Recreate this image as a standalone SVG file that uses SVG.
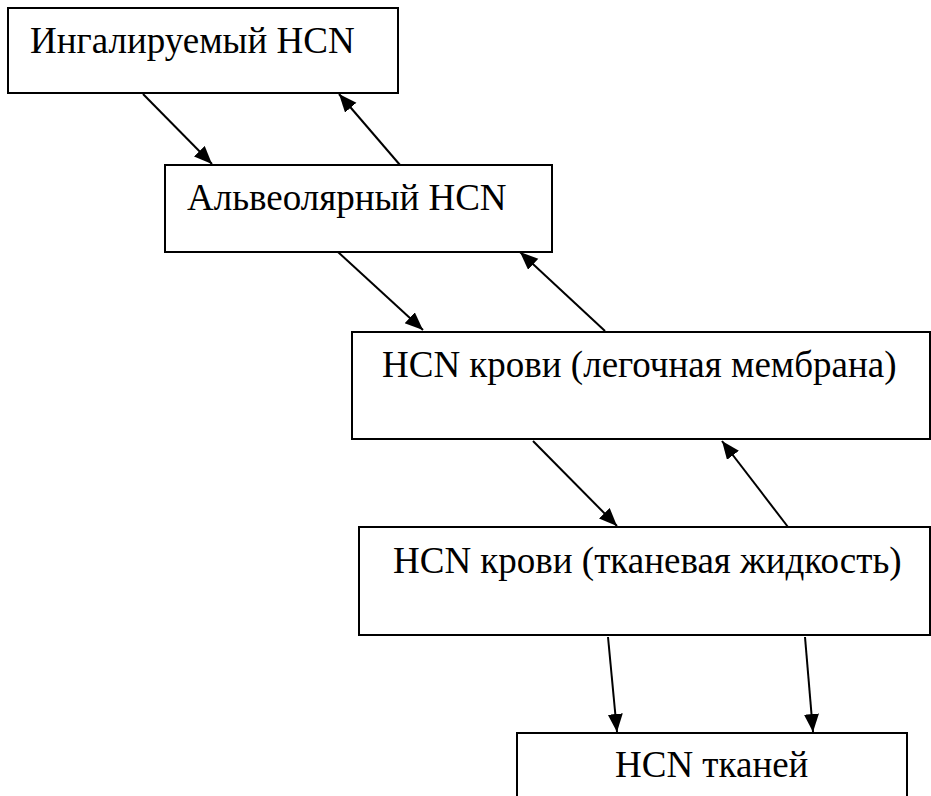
<svg xmlns="http://www.w3.org/2000/svg" width="931" height="796" viewBox="0 0 931 796">
<style>
.box{fill:#fff;stroke:#000;stroke-width:2}
.lbl{font-family:'Liberation Serif','Times New Roman',serif;font-size:37px;fill:#000}
.con{stroke:#000;stroke-width:2;fill:none;marker-end:url(#ah)}
</style>
<defs>
<marker id="ah" markerUnits="userSpaceOnUse" markerWidth="20" markerHeight="16" refX="18" refY="7.5" orient="auto">
<path d="M0,0 L18,7.5 L0,15 Z" fill="#000"/>
</marker>
</defs>
<rect width="931" height="796" fill="#fff"/>
<g id="connectors">
<line class="con" x1="143" y1="94" x2="212" y2="164"/>
<line class="con" x1="400" y1="165" x2="339" y2="94"/>
<line class="con" x1="338" y1="252" x2="423" y2="330"/>
<line class="con" x1="605" y1="331" x2="520" y2="252"/>
<line class="con" x1="533" y1="441" x2="617" y2="526"/>
<line class="con" x1="788" y1="527" x2="722" y2="441"/>
<line class="con" x1="608" y1="637" x2="617" y2="732"/>
<line class="con" x1="805" y1="637" x2="813" y2="732"/>
</g>
<g id="n1"><rect class="box" x="8" y="8" width="390" height="85"/><text class="lbl" x="30" y="53">Ингалируемый HCN</text></g>
<g id="n2"><rect class="box" x="165" y="165" width="387" height="87"/><text class="lbl" x="187" y="210">Альвеолярный HCN</text></g>
<g id="n3"><rect class="box" x="352" y="332" width="578" height="107"/><text class="lbl" x="382" y="377">HCN крови (легочная мембрана)</text></g>
<g id="n4"><rect class="box" x="359" y="527" width="571" height="108"/><text class="lbl" x="393" y="573">HCN крови (тканевая жидкость)</text></g>
<g id="n5"><rect class="box" x="517" y="733" width="390" height="80"/><text class="lbl" x="615" y="777">HCN тканей</text></g>
</svg>
